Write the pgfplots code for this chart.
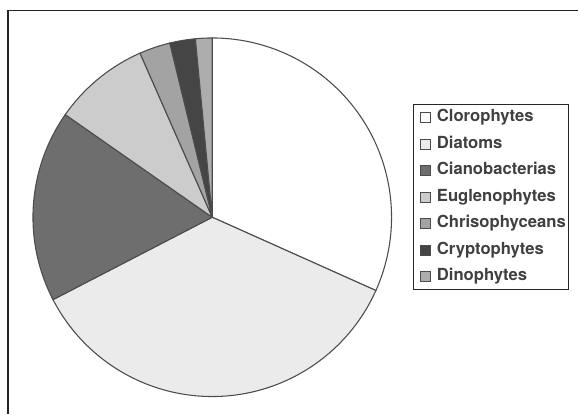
\documentclass[border=0pt]{standalone}
\usepackage{pgfplots}
\usepackage{pgfplotstable}
\pgfplotsset{compat=1.18}
\usepackage{fontspec}
\setmainfont{TeX Gyre Heros}
\definecolor{cClo}{gray}{1.0}
\definecolor{cDia}{gray}{0.92}
\definecolor{cCia}{gray}{0.43}
\definecolor{cEug}{gray}{0.80}
\definecolor{cChr}{gray}{0.64}
\definecolor{cCry}{gray}{0.27}
\definecolor{cDin}{gray}{0.68}
\definecolor{pieline}{gray}{0.30}
\definecolor{txt}{gray}{0.25}

\pgfplotstableread{
name pct
Clorophytes 31.7
Diatoms 35.7
Cianobacterias 17.3
Euglenophytes 8.7
Chrisophyceans 2.8
Cryptophytes 2.3
Dinophytes 1.5
}\pietable

\newcommand\getpct[2]{\pgfplotstablegetelem{#1}{pct}\of\pietable\global\let#2\pgfplotsretval}
\newcommand\legtxt[1]{\makebox[99pt][l]{\bfseries #1}}

\begin{document}
\begin{tikzpicture}
\getpct{0}{\pA}\getpct{1}{\pB}\getpct{2}{\pC}\getpct{3}{\pD}\getpct{4}{\pE}\getpct{5}{\pF}\getpct{6}{\pG}
\pgfmathsetmacro\aA{90}
\pgfmathsetmacro\aB{\aA-3.6*\pA}
\pgfmathsetmacro\aC{\aB-3.6*\pB}
\pgfmathsetmacro\aD{\aC-3.6*\pC}
\pgfmathsetmacro\aE{\aD-3.6*\pD}
\pgfmathsetmacro\aF{\aE-3.6*\pE}
\pgfmathsetmacro\aG{\aF-3.6*\pF}
\pgfmathsetmacro\aH{\aG-3.6*\pG}
\begin{axis}[
  scale only axis,
  width=434.25pt, height=310.5pt,
  xmin=0, xmax=579, ymin=0, ymax=414,
  hide axis,
  clip=false,
  legend cell align=left,
  legend image code/.code={\path (0pt,0pt); \draw[#1, line width=0.75pt] (5.25pt,-3.75pt) rectangle (12.75pt,3.75pt); \path (17pt,0pt);},
  legend style={
    at={(axis cs:413,310)}, anchor=north west,
    draw=black!85, line width=1pt,
    font=\fontsize{12.5}{14}\selectfont\bfseries\color{txt},
    inner xsep=0pt, inner ysep=4pt,
    row sep=8.4pt,
    column sep=0pt,
    nodes={text height=9pt, text depth=2.5pt, inner ysep=0pt, inner xsep=0pt},
  },
]
\addplot[draw=none, forget plot] coordinates {(0,0) (579,414)};
\addplot[black!85, line width=1pt, forget plot] coordinates {(8,0) (8,403.5) (579,403.5)};
\newcommand\slice[3]{%
  \addplot[draw=pieline, line width=0.8pt, fill=#3, domain=#1:#2, samples=120, variable=\t]
    ({212.5+179.5*cos(\t)},{196.5+179.5*sin(\t)}) -- (axis cs:212.5,196.5) -- cycle;}
\slice{\aB}{\aA}{cClo}
\slice{\aC}{\aB}{cDia}
\slice{\aD}{\aC}{cCia}
\slice{\aE}{\aD}{cEug}
\slice{\aF}{\aE}{cChr}
\slice{\aG}{\aF}{cCry}
\slice{\aH}{\aG}{cDin}
\legend{\legtxt{Clorophytes},\legtxt{Diatoms},\legtxt{Cianobacterias},\legtxt{Euglenophytes},\legtxt{Chrisophyceans},\legtxt{Cryptophytes},\legtxt{Dinophytes}}
\end{axis}
\end{tikzpicture}
\end{document}
